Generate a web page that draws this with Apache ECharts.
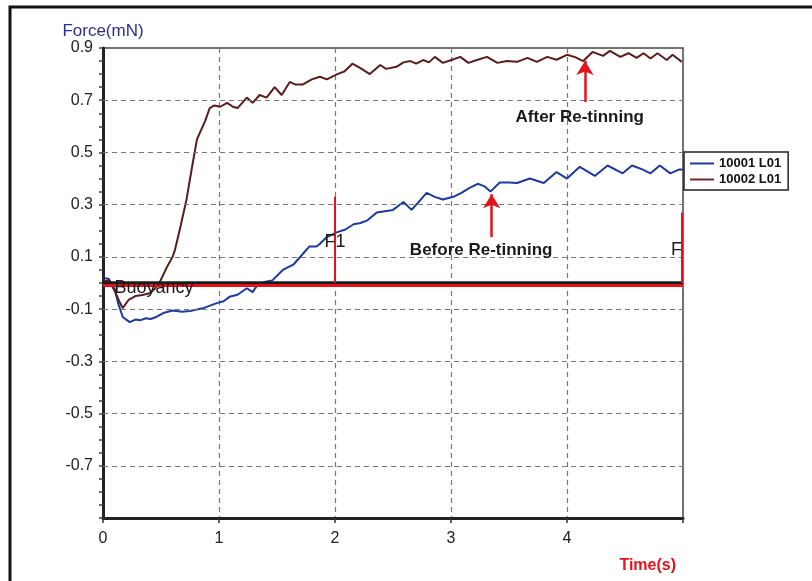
<!DOCTYPE html>
<html>
<head>
<meta charset="utf-8">
<script src="https://cdn.jsdelivr.net/npm/echarts@6/dist/echarts.min.js"></script>
<style>html,body{margin:0;padding:0;background:#fff;}#c{width:812px;height:581px;}</style>
</head>
<body>
<div id="c"></div>
<script>
// ---- data ----
const seriesNames = ['10001 L01', '10002 L01'];
const blueData = [[0,0.02],[0.05,0.015],[0.1,-0.02],[0.13,-0.077],[0.17,-0.13],[0.23,-0.15],[0.28,-0.14],[0.32,-0.143],[0.37,-0.135],[0.41,-0.138],[0.46,-0.13],[0.52,-0.115],[0.6,-0.105],[0.68,-0.11],[0.75,-0.107],[0.86,-0.097],[0.98,-0.077],[1.04,-0.07],[1.09,-0.053],[1.16,-0.045],[1.24,-0.02],[1.29,-0.035],[1.33,-0.008],[1.4,0.005],[1.46,0.01],[1.55,0.05],[1.64,0.07],[1.72,0.11],[1.78,0.14],[1.84,0.14],[1.87,0.15],[1.93,0.176],[2.02,0.195],[2.09,0.205],[2.16,0.225],[2.22,0.23],[2.28,0.24],[2.36,0.27],[2.43,0.275],[2.5,0.28],[2.59,0.31],[2.66,0.28],[2.72,0.31],[2.79,0.345],[2.86,0.33],[2.93,0.32],[3.02,0.33],[3.09,0.345],[3.16,0.364],[3.23,0.38],[3.29,0.37],[3.34,0.35],[3.42,0.385],[3.5,0.385],[3.57,0.383],[3.68,0.40],[3.8,0.383],[3.91,0.425],[4.0,0.40],[4.11,0.445],[4.24,0.41],[4.35,0.45],[4.48,0.42],[4.56,0.45],[4.65,0.435],[4.72,0.42],[4.8,0.45],[4.89,0.42],[4.97,0.435],[5.0,0.435]];
const brownData = [[0,0.005],[0.05,0.01],[0.1,-0.03],[0.14,-0.07],[0.17,-0.096],[0.22,-0.065],[0.28,-0.05],[0.34,-0.046],[0.41,-0.038],[0.45,-0.02],[0.49,0.004],[0.55,0.06],[0.6,0.1],[0.62,0.126],[0.67,0.22],[0.72,0.32],[0.77,0.45],[0.81,0.55],[0.88,0.62],[0.92,0.67],[0.96,0.68],[1.01,0.675],[1.07,0.69],[1.12,0.675],[1.16,0.67],[1.24,0.71],[1.29,0.69],[1.35,0.72],[1.41,0.71],[1.48,0.75],[1.54,0.72],[1.61,0.77],[1.66,0.76],[1.72,0.76],[1.8,0.78],[1.87,0.79],[1.93,0.78],[2.02,0.80],[2.08,0.81],[2.15,0.84],[2.23,0.82],[2.3,0.80],[2.39,0.835],[2.44,0.82],[2.53,0.828],[2.59,0.845],[2.65,0.85],[2.7,0.84],[2.76,0.854],[2.81,0.845],[2.86,0.866],[2.93,0.843],[3.01,0.855],[3.08,0.866],[3.15,0.843],[3.23,0.855],[3.31,0.866],[3.4,0.843],[3.48,0.85],[3.57,0.847],[3.66,0.862],[3.74,0.847],[3.83,0.866],[3.91,0.855],[4.0,0.874],[4.07,0.865],[4.14,0.85],[4.22,0.885],[4.31,0.87],[4.37,0.889],[4.46,0.866],[4.53,0.88],[4.6,0.862],[4.66,0.88],[4.72,0.86],[4.78,0.88],[4.86,0.854],[4.91,0.874],[4.99,0.847]];
const xTickLabels = ['0', '1', '2', '3', '4'];
const yLabelValues = [0.9, 0.7, 0.5, 0.3, 0.1, -0.1, -0.3, -0.5, -0.7];
const yGridValues = [0.7, 0.5, 0.3, 0.1, -0.1, -0.3, -0.5, -0.7];
const buoyancyLevels = [0.004, -0.009];
const forceMarkers = [{t: 2.0, top: 0.33, label: 'F1', lx: 2.0, ly: 0.157}, {t: 4.985, top: 0.27, label: 'F', lx: 4.945, ly: 0.126}];
const arrows = [
  {t: 4.155, from: 0.693, to: 0.85, label: 'After Re-tinning', lx: 4.11, ly: 0.636},
  {t: 3.35, from: 0.176, to: 0.34, label: 'Before Re-tinning', lx: 3.26, ly: 0.126}
];
const buoyancyLabel = {text: 'Buoyancy', x: 0.44, y: -0.02};

const FONT = 'Liberation Sans, Arial, sans-serif';
const RED = '#e3131b';

const chart = echarts.init(document.getElementById('c'), null, {renderer: 'canvas'});

const markLineData = [];
buoyancyLevels.forEach((v, i) => {
  markLineData.push({yAxis: v, lineStyle: {color: i === 0 ? '#1c1c1c' : RED, width: i === 0 ? 3.5 : 3, type: 'solid'}});
});
forceMarkers.forEach(m => {
  markLineData.push([{coord: [m.t, 0], lineStyle: {color: RED, width: 2, type: 'solid'}}, {coord: [m.t, m.top]}]);
});
arrows.forEach(a => {
  markLineData.push([{coord: [a.t, a.from], symbol: 'none', lineStyle: {color: RED, width: 2.5, type: 'solid'}}, {coord: [a.t, a.to], symbol: 'arrow', symbolSize: [13, 14]}]);
});

const markPointData = [];
markPointData.push({name: buoyancyLabel.text, coord: [buoyancyLabel.x, buoyancyLabel.y], label: {fontSize: 18, color: '#1a1a1a', fontFamily: FONT}});
forceMarkers.forEach(m => markPointData.push({name: m.label, coord: [m.lx, m.ly], label: {fontSize: 18, color: '#1a1a1a', fontFamily: FONT}}));
arrows.forEach(a => markPointData.push({name: a.label, coord: [a.lx, a.ly], label: {fontSize: 17, fontWeight: 'bold', color: '#1a1a1a', fontFamily: FONT}}));

chart.setOption({
  animation: false,
  backgroundColor: '#ffffff',
  graphic: [{
    type: 'rect', shape: {x: 10, y: 7, width: 900, height: 700},
    style: {fill: 'none', stroke: '#111', lineWidth: 3}, silent: true, z: 0
  }],
  grid: {left: 103, top: 48, width: 580, height: 470, show: true, borderColor: '#444', borderWidth: 1.5, backgroundColor: 'transparent'},
  legend: {
    data: seriesNames, orient: 'vertical', left: 684, top: 152,
    backgroundColor: '#fff', borderColor: '#222', borderWidth: 1.5, borderRadius: 0,
    padding: [5, 7, 4, 6], itemGap: 3, itemWidth: 24, itemHeight: 2, icon: 'rect',
    textStyle: {fontFamily: FONT, fontWeight: 'bold', fontSize: 13, color: '#111'}
  },
  xAxis: {
    type: 'value', min: 0, max: 5, interval: 1,
    name: 'Time(s)', nameLocation: 'end', nameGap: -7,
    nameTextStyle: {color: RED, fontSize: 16, fontWeight: 'bold', fontFamily: FONT, align: 'right', verticalAlign: 'top', padding: [40, 0, 0, 0]},
    axisLine: {show: true, onZero: false, lineStyle: {color: '#222', width: 3}},
    axisTick: {show: true, length: 5, lineStyle: {color: '#333', width: 1.5}},
    axisLabel: {fontSize: 16, color: '#222', fontFamily: FONT, margin: 13,
      formatter: v => { const i = Math.round(v); return (Math.abs(v - i) < 1e-6 && i < xTickLabels.length) ? xTickLabels[i] : ''; }},
    splitLine: {show: true, lineStyle: {color: '#777', type: [5, 4], width: 1.2}}
  },
  yAxis: {
    type: 'value', min: -0.9, max: 0.9, interval: 0.1,
    name: 'Force(mN)', nameLocation: 'end', nameGap: 8,
    nameTextStyle: {color: '#2b2f8f', fontSize: 17, fontFamily: FONT, align: 'center', padding: [0, 0, 0, 0]},
    axisLine: {show: true, onZero: false, lineStyle: {color: '#222', width: 3}},
    axisTick: {show: true, length: 4, lineStyle: {color: '#444', width: 1.5}},
    minorTick: {show: true, splitNumber: 2, length: 4, lineStyle: {color: '#444', width: 1.5}},
    axisLabel: {fontSize: 16, color: '#222', fontFamily: FONT, margin: 10,
      formatter: v => yLabelValues.some(l => Math.abs(l - v) < 1e-6) ? (Math.round(v * 10) / 10).toFixed(1) : ''},
    splitLine: {show: false}
  },
  series: [
    {
      name: 'grid', type: 'line', data: [], z: 1, silent: true,
      markLine: {silent: true, symbol: 'none', label: {show: false}, animation: false,
        lineStyle: {color: '#777', type: [5, 4], width: 1.2},
        data: yGridValues.map(v => ({yAxis: v}))}
    },
    {
      name: seriesNames[0], type: 'line', data: blueData, showSymbol: false, z: 3,
      lineStyle: {color: '#1d3a9c', width: 2}, itemStyle: {color: '#1d3a9c'}
    },
    {
      name: seriesNames[1], type: 'line', data: brownData, showSymbol: false, z: 3,
      lineStyle: {color: '#5a1d1d', width: 2}, itemStyle: {color: '#6e2a2a'}
    },
    {
      name: 'annot', type: 'line', data: [], z: 5, silent: true,
      markLine: {silent: true, symbol: 'none', label: {show: false}, animation: false, data: markLineData},
      markPoint: {silent: true, symbol: 'circle', symbolSize: 0, animation: false,
        label: {show: true, position: 'inside', formatter: '{b}'}, data: markPointData}
    }
  ]
});
</script>
</body>
</html>
